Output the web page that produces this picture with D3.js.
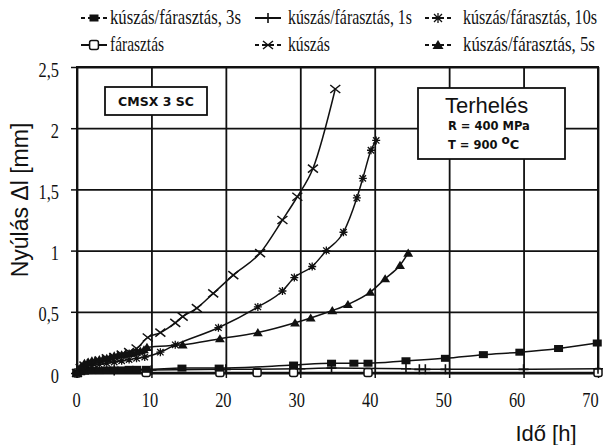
<!DOCTYPE html>
<html><head><meta charset="utf-8">
<script src="https://cdn.jsdelivr.net/npm/d3@7"></script>
<style>body{margin:0;background:#fff}</style></head>
<body><svg id="c" width="603" height="445"></svg>
<script>
// ---- data ----
const xTicks = [0,10,20,30,40,50,60,70];
const yTicks = [0,0.5,1,1.5,2,2.5];
const seriesNames = ["kúszás/fárasztás, 3s","kúszás/fárasztás, 1s","kúszás/fárasztás, 10s","fárasztás","kúszás","kúszás/fárasztás, 5s"];

const s3sT = [0,0.5,1,1.5,2,3,4,5,6,7,8,9.3,14.1,19.1,29.1,34.2,37.2,39.1,44.2,49.5,54.6,59.5,64.7,69.9];
const s3sV = [0,0.01,0.015,0.02,0.02,0.02,0.025,0.025,0.025,0.03,0.03,0.03,0.04,0.04,0.065,0.08,0.08,0.08,0.10,0.12,0.15,0.17,0.20,0.245];

const s1sT = [0,5,10,20,30,34.2,44.2,46,46.8,49.5,60,70];
const s1sV = [0,0.02,0.025,0.03,0.035,0.04,0.035,0.03,0.03,0.03,0.03,0.035];

const s10sT = [0,0.5,1,2,3,4,5,6,7,8,9.1,11.2,13.2,19.0,24.3,27.6,29.2,31.6,33.5,35.8,37.6,38.4,39.5,40.2];
const s10sV = [0,0.03,0.05,0.06,0.07,0.08,0.09,0.10,0.11,0.12,0.13,0.17,0.23,0.37,0.54,0.67,0.78,0.87,1.0,1.15,1.43,1.59,1.82,1.90];

const fT = [0,9.3,19.2,24.2,29.1,39.1,70];
const fV = [0,0.005,0.005,0.005,0.005,0.005,0.005];

const kT = [0,0.5,1,2,3,4,5,6,7,8,9.5,11.2,13.2,14.2,16.1,18.3,21.0,24.6,27.6,29.6,31.7,34.7];
const kV = [0,0.04,0.06,0.08,0.10,0.12,0.13,0.15,0.17,0.20,0.29,0.33,0.41,0.46,0.53,0.65,0.80,0.98,1.25,1.44,1.67,2.32];

const s5sT = [0,0.5,1,1.5,2,2.5,3,3.5,4,4.5,5,5.5,6,6.5,7,7.5,8,8.5,9,9.4,14.2,19.2,24.3,29.3,31.4,34.3,36.4,39.4,41.4,43.4,44.5];
const s5sV = [0,0.05,0.08,0.09,0.10,0.105,0.11,0.115,0.12,0.13,0.14,0.145,0.15,0.155,0.16,0.165,0.17,0.18,0.19,0.21,0.23,0.28,0.33,0.41,0.45,0.51,0.56,0.66,0.77,0.88,0.98];

const textCMSX = "CMSX 3 SC";
const textLoad = ["Terhelés","R = 400 MPa","T = 900 "];

// ---- layout ----
const W=603,H=445, m={l:77,r:5,t:67,b:72};
const svg=d3.select("#c");
const x=d3.scaleLinear().domain([0,70]).range([m.l,W-m.r]);
const xLab=d3.scaleLinear().domain([0,70]).range([76,590]); // label positions drift slightly in the source
const y=d3.scaleLinear().domain([0,2.5]).range([H-m.b,m.t]);
const fmt=d=>String(d).replace(".",",");

// grid via axes
const gx=svg.append("g").attr("transform",`translate(0,${H-m.b})`)
  .call(d3.axisBottom(x).tickValues(xTicks).tickSize(-(H-m.t-m.b)).tickFormat(fmt).tickPadding(0));
const gy=svg.append("g").attr("transform",`translate(${m.l},0)`)
  .call(d3.axisLeft(y).tickValues(yTicks).tickSize(-(W-m.l-m.r)).tickFormat(fmt).tickPadding(0));
[gx,gy].forEach(g=>{g.select(".domain").remove();
  g.selectAll(".tick line").attr("stroke","#111").attr("stroke-width",1.8);});
gx.selectAll(".tick text").attr("y",0).attr("dy",0)
  .attr("transform",d=>`translate(${xLab(d)-x(d)},34) scale(0.82,1.05)`)
  .style("font-family","'Liberation Serif', serif").style("font-size","20px").attr("fill","#111");
gy.selectAll(".tick text").attr("x",0).attr("dy",0)
  .attr("transform","translate(-18,9) scale(0.82,1.05)")
  .style("font-family","'Liberation Serif', serif").style("font-size","20px").attr("fill","#111");
gy.selectAll(".tick").append("line").attr("x1",-6).attr("x2",0).attr("stroke","#111").attr("stroke-width",1.5);
gx.selectAll(".tick").append("line").attr("y1",0).attr("y2",5).attr("stroke","#111").attr("stroke-width",1.5);
svg.append("rect").attr("x",m.l).attr("y",m.t).attr("width",W-m.l-m.r).attr("height",H-m.t-m.b)
  .attr("fill","none").attr("stroke","#111").attr("stroke-width",2);

// markers
function marker(g,type,cx,cy,s=1){
  const k="#111";
  if(type==="sq") g.append("rect").attr("x",cx-4.5*s).attr("y",cy-3.5*s).attr("width",9*s).attr("height",7*s).attr("fill",k);
  else if(type==="plus"){g.append("path").attr("d",`M${cx},${cy-5*s}V${cy+5*s}M${cx-5*s},${cy}H${cx+5*s}`).attr("stroke",k).attr("stroke-width",1.6);}
  else if(type==="ast"){g.append("path").attr("d",`M${cx},${cy-5*s}V${cy+5*s}M${cx-5*s},${cy}H${cx+5*s}M${cx-4*s},${cy-4*s}L${cx+4*s},${cy+4*s}M${cx-4*s},${cy+4*s}L${cx+4*s},${cy-4*s}`).attr("stroke",k).attr("stroke-width",1.3);}
  else if(type==="osq") g.append("rect").attr("x",cx-4*s).attr("y",cy-4*s).attr("width",8*s).attr("height",8*s).attr("rx",2).attr("fill","#fff").attr("stroke",k).attr("stroke-width",1.5);
  else if(type==="x"){g.append("path").attr("d",`M${cx-5*s},${cy-4*s}L${cx+5*s},${cy+4*s}M${cx-5*s},${cy+4*s}L${cx+5*s},${cy-4*s}`).attr("stroke",k).attr("stroke-width",1.5);}
  else if(type==="tri") g.append("path").attr("d",`M${cx},${cy-5*s}L${cx+5.5*s},${cy+4*s}L${cx-5.5*s},${cy+4*s}Z`).attr("fill",k);
}

const series=[
  {t:fT,v:fV,m:"osq"},
  {t:s1sT,v:s1sV,m:"plus"},
  {t:s3sT,v:s3sV,m:"sq"},
  {t:s10sT,v:s10sV,m:"ast",s:0.8},
  {t:kT,v:kV,m:"x"},
  {t:s5sT,v:s5sV,m:"tri",s:0.9},
];
const line=d3.line().x(d=>x(d[0])).y(d=>y(d[1])).curve(d3.curveMonotoneX);
series.forEach(se=>{
  const pts=se.t.map((t,i)=>[t,se.v[i]]);
  const g=svg.append("g");
  g.append("path").datum(pts).attr("d",line).attr("fill","none").attr("stroke","#111").attr("stroke-width",1.5);
  pts.forEach(p=>marker(g,se.m,x(p[0]),y(p[1]),se.s||1));
});

// legend (text condensed by measured scale so its box matches the source width)
const legTypes=["sq","plus","ast","osq","x","tri"];
const legX=[81,255,425], legTextX=[110,288,463], legRowY=[18,45];
const legTextLen=[131,124,134,54,42,132];
seriesNames.forEach((n,i)=>{
  const col=i%3,row=Math.floor(i/3);
  const lx=legX[col],ly=legRowY[row];
  const g=svg.append("g");
  const dashed=(legTypes[i]!=="plus"&&legTypes[i]!=="osq");
  g.append("line").attr("x1",lx).attr("x2",lx+26).attr("y1",ly).attr("y2",ly).attr("stroke","#111").attr("stroke-width",2)
    .attr("stroke-dasharray",dashed?"4,3,12,3,4":null);
  marker(g,legTypes[i],lx+13,ly,legTypes[i]==="osq"?1.1:1);
  const t=g.append("text").attr("x",0).attr("y",0).text(n)
    .style("font-family","'Liberation Serif', serif").style("font-size","22px").attr("fill","#111");
  const nat=t.node().getComputedTextLength()||legTextLen[i];
  t.attr("transform",`translate(${legTextX[col]},${ly+6}) scale(${legTextLen[i]/nat},1)`);
});

// CMSX box
svg.append("rect").attr("x",105).attr("y",87).attr("width",102).attr("height",28).attr("fill","#fff").attr("stroke","#111").attr("stroke-width",1.8);
svg.append("text").attr("x",156).attr("y",106).attr("text-anchor","middle").text(textCMSX)
  .style("font-family","'DejaVu Sans', sans-serif").attr("font-weight","bold").style("font-size","12.5px").attr("fill","#111");

// Terhelés box
svg.append("rect").attr("x",418).attr("y",88).attr("width",147).attr("height",71).attr("fill","#fff").attr("stroke","#111").attr("stroke-width",1.8);
svg.append("text").attr("x",445).attr("y",113).text(textLoad[0])
  .style("font-family","'Liberation Sans', sans-serif").style("font-size","22px").attr("fill","#111");
svg.append("text").attr("x",448).attr("y",130).text(textLoad[1])
  .style("font-family","'DejaVu Sans', sans-serif").attr("font-weight","bold").style("font-size","11.5px").attr("fill","#111");
const tt=svg.append("text").attr("x",448).attr("y",149)
  .style("font-family","'DejaVu Sans', sans-serif").attr("font-weight","bold").style("font-size","11.5px").attr("fill","#111");
tt.append("tspan").text(textLoad[2]);
tt.append("tspan").text("o").attr("dy",-5).style("font-size","12px");
tt.append("tspan").text("C").attr("dy",5).style("font-size","13px");

// axis titles
svg.append("text").attr("transform","translate(28,200) rotate(-90)").attr("text-anchor","middle")
  .text("Nyúlás Δl [mm]").style("font-family","'Liberation Sans', sans-serif").style("font-size","23px").attr("fill","#111");
svg.append("text").attr("x",546).attr("y",441).attr("text-anchor","middle")
  .text("Idő [h]").style("font-family","'Liberation Sans', sans-serif").style("font-size","22px").attr("fill","#111");
</script></body></html>
